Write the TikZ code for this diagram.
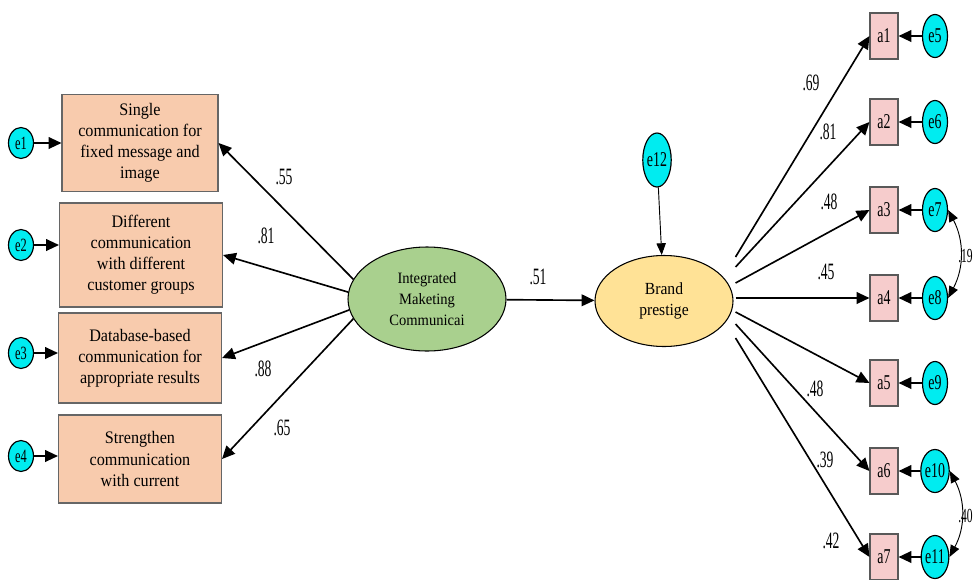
\documentclass[tikz,border=0pt]{standalone}
\usepackage{fontspec}
\setmainfont{Liberation Serif}
\newfontfamily\narrowfont[FakeStretch=0.66]{Liberation Serif}
\newfontfamily\coeffont[FakeStretch=0.58]{Liberation Serif}
\newfontfamily\boxfont[FakeStretch=0.92]{Liberation Serif}
\usetikzlibrary{arrows.meta,shapes.geometric,calc}
\definecolor{peach}{RGB}{248,203,173}
\definecolor{rose}{RGB}{246,204,204}
\definecolor{sage}{RGB}{169,208,142}
\definecolor{straw}{RGB}{255,226,150}
\definecolor{aqua}{RGB}{0,236,240}

\begin{document}
\begin{tikzpicture}[x=0.03cm,y=-0.03cm,
 item/.style={draw=black!60,fill=peach,line width=0.9pt,align=center,inner sep=2pt,minimum width=4.89cm,font=\boxfont\fontsize{15}{18}\selectfont},
 ind/.style={draw=black!65,fill=rose,line width=0.9pt,inner sep=0pt,minimum width=0.84cm,minimum height=1.38cm,font=\narrowfont\fontsize{18}{18}\selectfont},
 latent/.style={ellipse,draw,line width=0.9pt,align=center,inner sep=0pt,font=\boxfont\fontsize{13.5}{18}\selectfont},
 err/.style={ellipse,draw,fill=aqua,line width=1pt,inner sep=0pt,minimum width=0.75cm,minimum height=1.29cm,font=\narrowfont\fontsize{18}{18}\selectfont},
 coef/.style={inner sep=0pt,font=\coeffont\fontsize{20}{20}\selectfont},
 path/.style={line width=1.4pt,-{Triangle[length=11pt,width=10pt]}},
 thinpath/.style={line width=0.8pt,-{Triangle[length=10pt,width=8pt]}},
 cov/.style={line width=0.8pt,{Triangle[length=10pt,width=8pt]}-{Triangle[length=10pt,width=8pt]}}]
\useasboundingbox (0,0) rectangle (974,579);

% the two latent variables
\node[latent,fill=sage,minimum width=4.74cm,minimum height=3.12cm] (imc) at (427,299) {Integrated\\Maketing\\Communicai};
\node[latent,fill=straw,minimum width=4.14cm,minimum height=2.73cm,font=\boxfont\fontsize{14.5}{18}\selectfont] (bp) at (664,301) {Brand\\prestige};
\node[err,minimum width=0.66cm,minimum height=1.62cm] (e12) at (657,160) {e12};
\draw[thinpath] (e12) -- (bp);
\draw[path] (imc) -- (bp);
\node[coef] (c51) at (538,277) {.51};

% measured items of IMC
\node[item,minimum width=4.68cm,minimum height=2.91cm] (x1) at (140,143) {Single\\communication for\\fixed message and\\image};
\node[item,minimum height=3.12cm] (x2) at (141,255) {Different\\communication\\with different\\customer groups};
\node[item,minimum height=2.7cm] (x3) at (140,358) {Database-based\\communication for\\appropriate results};
\node[item,minimum height=2.64cm] (x4) at (140,459) {Strengthen\\communication\\with current};
\foreach \i/\y/\a in {1/143/165,2/245/175,3/353/188,4/456/195}{
 \node[err,minimum height=0.93cm,font=\narrowfont\fontsize{16}{16}\selectfont] (e\i) at (21,\y) {e\i};
 \draw[path] (e\i) -- (e\i -| x\i.west);
 \draw[path] (imc.\a) -- (x\i.east);
}
\node[coef] (c55) at (284,177) {.55}; \node[coef] (c81) at (266,236) {.81};
\node[coef] (c88) at (263,369) {.88}; \node[coef] (c65) at (282,428) {.65};

% indicators of brand prestige, loadings leave from the right rim
\foreach \i/\y/\d in {1/36/-44,2/122/-34,3/210/-18,4/298/-3,5/383/11,6/471/23,7/557/37}{
 \pgfmathtruncatemacro\k{\i+4}
 \node[ind] (a\i) at (884,\y) {a\i};
 \node[err] (e\k) at (935,\y) {e\k};
 \draw[path] (e\k) -- (a\i);
 \draw[path] ($(bp.east)+(2,\d)$) -- (a\i.west);
}
\node[coef] (c69) at (811,83) {.69}; \node[coef] (c81b) at (828,132) {.81};
\node[coef] (c48) at (829,202) {.48}; \node[coef] (c45) at (826,272) {.45};
\node[coef] (c48b) at (815,389) {.48}; \node[coef] (c39) at (825,460) {.39};
\node[coef] (c42) at (831,541) {.42};

% correlated errors
\draw[cov] (e7.east) to[bend left=28] (e8.east);
\draw[cov] (e10.east) to[bend left=28] (e11.east);
\node[coef,anchor=east,font=\coeffont\fontsize{17}{17}\selectfont] (c19) at (973,256) {.19};
\node[coef,anchor=east,font=\coeffont\fontsize{17}{17}\selectfont] (c40) at (973,516) {.40};
\end{tikzpicture}
\end{document}
